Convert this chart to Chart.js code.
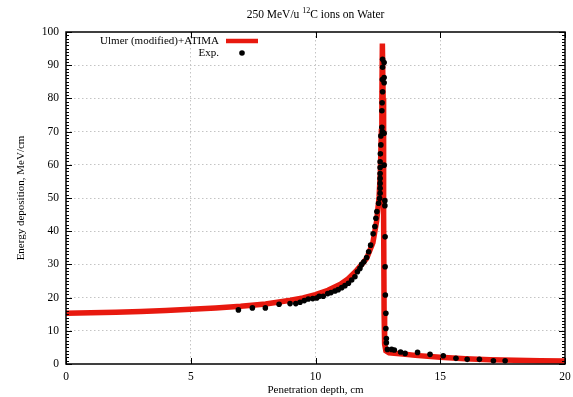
<!DOCTYPE html>
<html>
<head>
<meta charset="utf-8">
<script src="https://cdn.jsdelivr.net/npm/chart.js@4"></script>
<style>
  html, body { margin: 0; padding: 0; background: #fff; }
  #wrap { width: 573px; height: 397px; }
</style>
</head>
<body>
<div id="wrap"><canvas id="chart" width="573" height="397"></canvas></div>
<script>
// model curve (Ulmer modified + ATIMA), depth in cm vs MeV/cm
const modelDepth = [0, 1, 2, 3, 4, 5, 6, 7, 8, 9, 9.5, 10, 10.5, 11, 11.3, 11.6, 11.9, 12.05, 12.3, 12.45, 12.55, 12.6, 12.64, 12.66, 12.68, 12.71, 12.73, 12.75, 12.77, 12.82, 12.95, 13.5, 14, 15, 16, 17, 18, 19, 20];
const modelDose = [15.3, 15.4, 15.6, 15.8, 16.1, 16.5, 16.9, 17.4, 18.1, 19.2, 19.9, 20.9, 22.2, 24.0, 25.6, 27.8, 30.4, 31.8, 36.5, 43, 50.4, 58, 70, 80, 96.5, 80, 45, 15, 6, 4, 3.4, 3.0, 2.6, 2.0, 1.6, 1.3, 1.1, 1.0, 0.9];

// experimental points
const expDepth = [6.91, 7.47, 7.99, 8.54, 8.98, 9.21, 9.38, 9.55, 9.71, 9.89, 10.05, 10.15, 10.31, 10.49, 10.62, 10.78, 10.91, 11.05, 11.18, 11.32, 11.45, 11.58, 11.68, 11.78, 11.85, 11.94, 12.05, 12.13, 12.21, 12.31, 12.38, 12.42, 12.46, 12.53, 12.57, 12.59, 12.59, 12.59, 12.59, 12.59, 12.59, 12.59, 12.6, 12.62, 12.62, 12.66, 12.68, 12.66, 12.67, 12.69, 12.68, 12.69, 12.69, 12.75, 12.75, 12.75, 12.75, 12.75, 12.78, 12.78, 12.79, 12.79, 12.8, 12.82, 12.82, 12.84, 12.84, 12.88, 13.05, 13.16, 13.41, 13.59, 14.09, 14.59, 15.12, 15.63, 16.08, 16.57, 17.13, 17.6];
const expDose = [16.3, 16.9, 16.9, 18.0, 18.2, 18.2, 18.6, 19.1, 19.6, 19.7, 19.9, 20.4, 20.4, 21.2, 21.5, 22.0, 22.4, 23.0, 23.6, 24.3, 25.3, 26.3, 27.8, 28.8, 30.0, 30.8, 32.1, 33.8, 35.8, 39.2, 41.4, 43.9, 45.9, 48.4, 49.9, 51.4, 52.9, 54.4, 55.9, 57.4, 59.2, 60.9, 63.3, 66.0, 68.7, 71.3, 70.0, 76.3, 78.7, 82.0, 85.7, 89.4, 91.8, 90.8, 86.3, 84.7, 69.5, 59.9, 49.2, 47.7, 38.3, 29.3, 20.8, 15.3, 10.7, 7.7, 6.4, 4.4, 4.4, 4.2, 3.6, 3.2, 3.5, 2.9, 2.5, 1.7, 1.4, 1.4, 1.0, 1.0];

const xTicks = [0, 5, 10, 15, 20];
const yTicks = [0, 10, 20, 30, 40, 50, 60, 70, 80, 90, 100];

const RED = '#e8190f';
const FONT = 'Liberation Serif';

const toPts = (xs, ys) => xs.map((x, i) => ({ x, y: ys[i] }));

// frame, inward tick marks on all four sides, title and legend drawn gnuplot-style
const gnuplotFrame = {
    id: 'gnuplotFrame',
    afterDraw(chart) {
        const { ctx, chartArea: a, scales: { x, y } } = chart;
        ctx.save();
        ctx.strokeStyle = '#000';
        ctx.lineWidth = 1;
        ctx.beginPath();
        for (let v = 0; v <= 100; v++) {
            const py = Math.round(y.getPixelForValue(v)) + 0.5;
            const len = v % 10 === 0 ? 6 : 3;
            ctx.moveTo(a.left, py); ctx.lineTo(a.left + len, py);
            ctx.moveTo(a.right, py); ctx.lineTo(a.right - len, py);
        }
        xTicks.forEach(v => {
            const px = Math.round(x.getPixelForValue(v)) + 0.5;
            ctx.moveTo(px, a.bottom); ctx.lineTo(px, a.bottom - 6);
            ctx.moveTo(px, a.top); ctx.lineTo(px, a.top + 6);
        });
        ctx.stroke();
        ctx.lineWidth = 1.5;
        ctx.strokeRect(a.left, a.top, a.right - a.left, a.bottom - a.top);

        // title with superscript
        ctx.fillStyle = '#000';
        ctx.textBaseline = 'alphabetic';
        const f = `11.5px "${FONT}"`, fs = `8px "${FONT}"`;
        const parts = [['250 MeV/u ', f, 0], ['12', fs, -5], ['C ions on Water', f, 0]];
        let w = 0;
        parts.forEach(p => { ctx.font = p[1]; w += ctx.measureText(p[0]).width; });
        let tx = (a.left + a.right) / 2 - w / 2;
        parts.forEach(p => {
            ctx.font = p[1];
            ctx.fillText(p[0], tx, 18 + p[2]);
            tx += ctx.measureText(p[0]).width;
        });

        // legend
        const ds = chart.data.datasets;
        ctx.font = `11px "${FONT}"`;
        ctx.textAlign = 'right';
        ctx.textBaseline = 'middle';
        ctx.fillText(ds[1].label, 219, 41);
        ctx.fillText(ds[0].label, 219, 53);
        ctx.strokeStyle = RED;
        ctx.lineWidth = 4.5;
        ctx.beginPath();
        ctx.moveTo(226, 41); ctx.lineTo(258, 41);
        ctx.stroke();
        ctx.fillStyle = '#000';
        ctx.beginPath();
        ctx.arc(242, 53, 2.8, 0, Math.PI * 2);
        ctx.fill();
        ctx.restore();
    }
};

const gridColor = (ctx, ends) => ends.includes(ctx.tick.value) ? 'rgba(0,0,0,0)' : '#c4c4c4';

new Chart(document.getElementById('chart'), {
    type: 'scatter',
    data: {
        datasets: [
            {
                label: 'Exp.',
                data: toPts(expDepth, expDose),
                showLine: false,
                pointRadius: 2.8,
                pointBackgroundColor: '#000',
                pointBorderWidth: 0
            },
            {
                label: 'Ulmer (modified)+ATIMA',
                data: toPts(modelDepth, modelDose),
                showLine: true,
                borderColor: RED,
                borderWidth: 5.5,
                borderJoinStyle: 'miter',
                pointRadius: 0,
                tension: 0
            }
        ]
    },
    options: {
        responsive: false,
        animation: false,
        layout: { padding: { top: 32, right: 8, left: 0, bottom: 0 } },
        plugins: { legend: { display: false }, tooltip: { enabled: false } },
        scales: {
            x: {
                type: 'linear', min: 0, max: 20,
                afterFit: s => { s.height = 33; s.paddingLeft = 0; s.paddingRight = 0; },
                afterBuildTicks: s => { s.ticks = xTicks.map(v => ({ value: v })); },
                ticks: { color: '#000', font: { family: FONT, size: 11.5 }, padding: 6 },
                grid: { drawTicks: false, color: c => gridColor(c, [0, 20]) },
                border: { display: false, dash: [1.5, 2.5] },
                title: { display: true, text: 'Penetration depth, cm', color: '#000', font: { family: FONT, size: 11 }, padding: { top: 0, bottom: 0 } }
            },
            y: {
                type: 'linear', min: 0, max: 100,
                afterFit: s => { s.width = 66; s.paddingTop = 0; s.paddingBottom = 0; },
                afterBuildTicks: s => { s.ticks = yTicks.map(v => ({ value: v })); },
                ticks: { color: '#000', font: { family: FONT, size: 11.5 }, padding: 7 },
                grid: { drawTicks: false, color: c => gridColor(c, [0, 100]) },
                border: { display: false, dash: [1.5, 2.5] },
                title: { display: true, text: 'Energy deposition, MeV/cm', color: '#000', font: { family: FONT, size: 11 }, padding: { top: 15, bottom: 0 } }
            }
        }
    },
    plugins: [gnuplotFrame]
});
</script>
</body>
</html>
